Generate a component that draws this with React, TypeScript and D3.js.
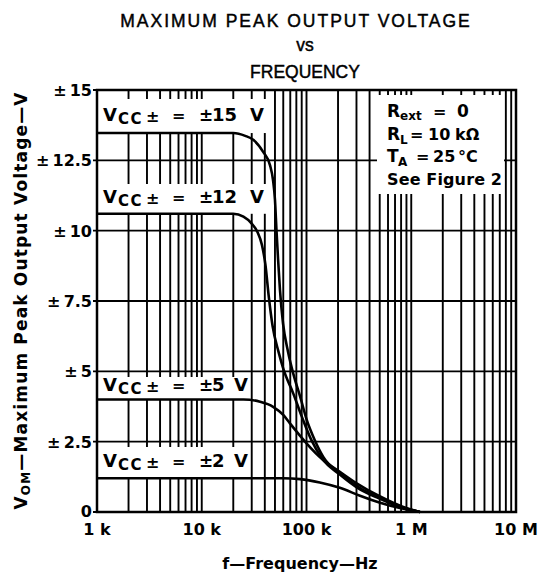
import React from 'react';
import * as d3 from 'd3';

const width = 554;
const height = 579;

// axis ticks
const freqDecades = [1e3, 1e4, 1e5, 1e6, 1e7];
const freqLabels = ['1 k', '10 k', '100 k', '1 M', '10 M'];
const voltTicks = [0, 2.5, 5, 7.5, 10, 12.5, 15];
const voltLabels = ['0', '2.5', '5', '7.5', '10', '12.5', '15'];

// curves (Hz, volts)
const freq15 = [1e3, 2.0e4, 2.6e4, 3.1e4, 3.84e4, 4.48e4, 4.79e4, 5.0e4, 5.17e4, 5.35e4, 5.58e4, 5.97e4, 6.66e4, 7.5e4, 8.7e4, 1.0e5, 1.2e5, 1.45e5, 2.08e5, 3.24e5, 5.05e5, 7.8e5, 1.21e6];
const vom15 = [13.47, 13.47, 13.37, 13.23, 12.81, 12.33, 11.8, 11.1, 10.0, 9.0, 7.9, 6.7, 5.7, 4.9, 4.1, 3.3, 2.55, 1.95, 1.38, 0.85, 0.5, 0.2, 0];

const freq12 = [1e3, 2.0e4, 2.5e4, 3.0e4, 3.4e4, 3.75e4, 4.05e4, 4.35e4, 4.75e4, 5.4e4, 6.0e4, 7.5e4, 9.0e4, 1.1e5, 1.41e5, 2.08e5, 3.24e5, 5.05e5, 7.8e5, 1.21e6];
const vom12 = [10.6, 10.6, 10.5, 10.25, 9.95, 9.5, 8.8, 7.7, 6.6, 5.7, 5.1, 4.2, 3.4, 2.6, 1.9, 1.33, 0.8, 0.47, 0.18, 0];

const freq5 = [1e3, 2.5e4, 3.6e4, 4.8e4, 6.0e4, 6.95e4, 8.5e4, 1.0e5, 1.44e5, 2.08e5, 3.01e5, 5.04e5, 9.06e5, 1.21e6];
const vom5 = [4.0, 4.0, 3.92, 3.74, 3.45, 3.15, 2.75, 2.44, 1.85, 1.43, 1.02, 0.55, 0.13, 0];

const freq2 = [1e3, 6.0e4, 8.67e4, 1.34e5, 2.08e5, 3.24e5, 5.04e5, 7.8e5, 1.21e6];
const vom2 = [1.2, 1.2, 1.17, 1.05, 0.86, 0.58, 0.33, 0.14, 0];

const supplies = ['15', '12', '5', '2'];

const left = 97, right = 516, top = 90, bottom = 512;

const x = d3.scaleLog().domain([1e3, 1e7]).range([left, right]);
const y = d3.scaleLinear().domain([0, 15]).range([bottom, top]);

const line = d3.line<[number, number]>()
  .x(d => x(d[0]))
  .y(d => y(d[1]))
  .curve(d3.curveMonotoneX);

const bold = 'DejaVu Sans, Verdana, sans-serif';
const plain = 'Liberation Sans, Arial, sans-serif';

// minor log grid: 1..9 in each decade
const gridFreqs: number[] = [];
for (let k = 3; k < 7; k++) {
  for (let m = 1; m < 10; m++) gridFreqs.push(m * Math.pow(10, k));
}
gridFreqs.push(1e7);

function SupplyLabel({ base, num }: { base: number; num: string }) {
  const vx = num.length > 1 ? 250 : 234;
  return (
    <g fontFamily={bold} fontWeight="bold" fill="#000">
      <text x={103} y={base} fontSize={18}>V</text>
      <text x={118} y={base + 3} fontSize={15} letterSpacing={1.5}>CC</text>
      <text x={146} y={base + 1} fontSize={16}>±</text>
      <text x={172} y={base} fontSize={16}>=</text>
      <text x={199} y={base} fontSize={17}>±</text>
      <text x={212} y={base} fontSize={18}>{num}</text>
      <text x={vx} y={base} fontSize={18}>V</text>
    </g>
  );
}

export default function App() {
  const curves = [
    { f: freq15, v: vom15 },
    { f: freq12, v: vom12 },
    { f: freq5, v: vom5 },
    { f: freq2, v: vom2 },
  ];
  // label boxes sit on top of each flat curve
  const boxes = [
    { top: 99, right: 271, flat: vom15[0], base: 121 },
    { top: 184, right: 266, flat: vom12[0], base: 203 },
    { top: 377, right: 250, flat: vom5[0], base: 391 },
    { top: 447, right: 250, flat: vom2[0], base: 467 },
  ];

  return (
    <svg width={width} height={height} style={{ position: 'absolute', left: 0, top: 0 }}>
      <rect width={width} height={height} fill="#fff" />

      {/* title */}
      <g fontFamily={plain} fill="#000" stroke="#000" strokeWidth={0.45} textAnchor="middle" fontSize={17.5}>
        <text x={296} y={27} letterSpacing={2.0}>MAXIMUM PEAK OUTPUT VOLTAGE</text>
        <text x={305} y={51}>vs</text>
        <text x={305} y={78}>FREQUENCY</text>
      </g>

      {/* grid */}
      <g stroke="#000" strokeWidth={1.9}>
        {gridFreqs.map(f => (
          <line key={f} x1={x(f)} x2={x(f)} y1={top} y2={bottom} />
        ))}
        {voltTicks.map(v => (
          <line key={v} x1={left - 4} x2={right} y1={y(v)} y2={y(v)} />
        ))}
      </g>

      {/* white label boxes */}
      {boxes.map((b, i) => (
        <rect key={i} x={left + 1} y={b.top} width={b.right - left - 1} height={y(b.flat) - b.top} fill="#fff" />
      ))}
      <rect x={377} y={95} width={127} height={99} fill="#fff" />

      {/* curves */}
      <g fill="none" stroke="#000" strokeWidth={2.6}>
        {curves.map((c, i) => (
          <path key={i} d={line(c.f.map((f, j) => [f, c.v[j]] as [number, number])) || ''} />
        ))}
      </g>

      {/* frame */}
      <rect x={left} y={top} width={right - left} height={bottom - top} fill="none" stroke="#000" strokeWidth={2.5} />

      {boxes.map((b, i) => (
        <SupplyLabel key={i} base={b.base} num={supplies[i]} />
      ))}

      {/* conditions */}
      <g fontFamily={bold} fontWeight="bold" fill="#000">
        <text x={387} y={117} fontSize={17}>R</text>
        <text x={400} y={120} fontSize={12}>ext</text>
        <text x={433} y={117} fontSize={16}>=</text>
        <text x={457} y={117} fontSize={17}>0</text>

        <text x={387} y={140} fontSize={17}>R</text>
        <text x={400} y={144} fontSize={12}>L</text>
        <text x={410} y={140} fontSize={16}>=</text>
        <text x={428} y={140} fontSize={16}>10</text>
        <text x={455} y={140} fontSize={16}>kΩ</text>

        <text x={387} y={162} fontSize={17}>T</text>
        <text x={398} y={166} fontSize={12}>A</text>
        <text x={416} y={162} fontSize={16}>=</text>
        <text x={433} y={162} fontSize={16}>25</text>
        <text x={458} y={162} fontSize={16}>°C</text>

        <text x={387} y={185} fontSize={16} textLength={115} lengthAdjust="spacing">See Figure 2</text>
      </g>

      {/* y tick labels */}
      <g fontFamily={bold} fontWeight="bold" fontSize={16} fill="#000" textAnchor="end">
        {voltTicks.map((v, i) => (
          <text key={v} x={92} y={v === 0 ? 517 : y(v) + 6}>
            {v === 0 ? '0' : `±\u2009${voltLabels[i]}`}
          </text>
        ))}
      </g>

      {/* x tick labels */}
      <g fontFamily={bold} fontWeight="bold" fontSize={16} fill="#000" textAnchor="middle">
        {freqDecades.map((f, i) => (
          <text key={f} x={x(f)} y={535}>{freqLabels[i]}</text>
        ))}
      </g>

      {/* axis titles */}
      <text x={300} y={569} fontFamily={bold} fontWeight="bold" fontSize={16} textAnchor="middle">
        f—Frequency—Hz
      </text>
      <text transform="translate(27,301) rotate(-90)" fontFamily={bold} fontWeight="bold" fontSize={17}
        textAnchor="middle" textLength={417} lengthAdjust="spacing">
        V<tspan fontSize={12} dy={3}>OM</tspan><tspan dy={-3}>—Maximum Peak Output Voltage—V</tspan>
      </text>
    </svg>
  );
}
